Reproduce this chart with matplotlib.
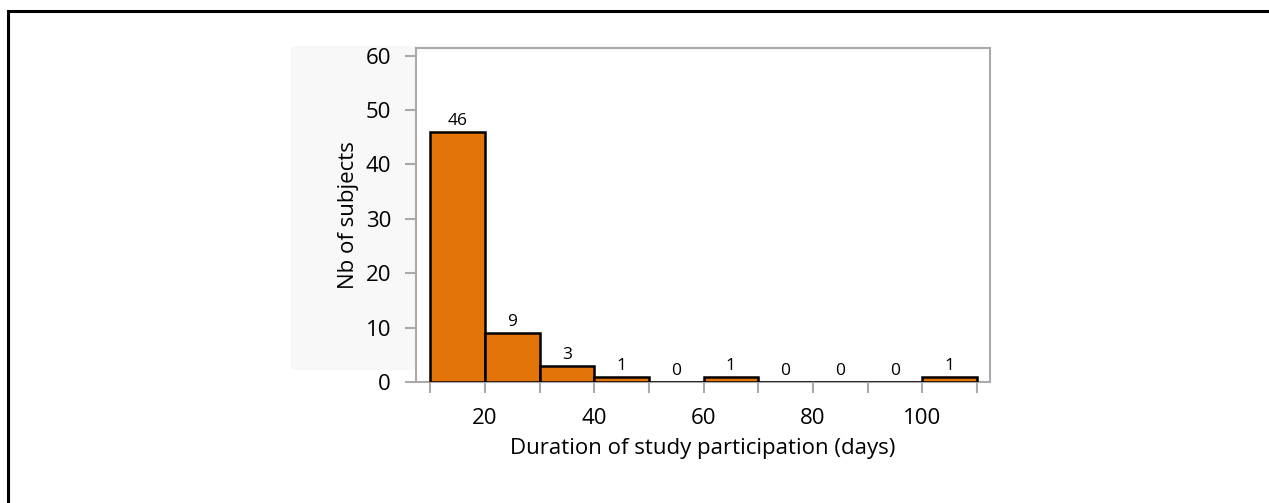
import numpy as np
import matplotlib
matplotlib.use("Agg")
import matplotlib.pyplot as plt
from matplotlib.patches import Rectangle

# histogram bins (days) and counts
bin_edges = [10, 20, 30, 40, 50, 60, 70, 80, 90, 100, 110]
counts = [46, 9, 3, 1, 0, 1, 0, 0, 0, 1]
xtick_labels = [20, 40, 60, 80, 100]
ytick_labels = [0, 10, 20, 30, 40, 50, 60]

plt.rcParams['font.family'] = ['Open Sans', 'DejaVu Sans']

W, H = 1269, 503
fig = plt.figure(figsize=(W / 100, H / 100), dpi=100)

# outer black frame (runs off the right and bottom edges)
fig.patches.append(Rectangle((7.5 / W, -0.2), 1.2, 1 - 11 / H + 0.2,
                             transform=fig.transFigure, fill=False,
                             edgecolor='black', linewidth=2.2, zorder=0))
# light grey panel behind the y axis
fig.patches.append(Rectangle((291 / W, 1 - 370 / H), (416 - 291) / W, (370 - 46) / H,
                             transform=fig.transFigure, facecolor='#f8f8f8',
                             edgecolor='none', zorder=0))

ax = fig.add_axes([416 / W, 1 - 382 / H, (990 - 416) / W, (382 - 48) / H])
ax.set_zorder(2)
ax.set_facecolor('white')

lefts = np.array(bin_edges[:-1])
widths = np.diff(bin_edges)
bars = ax.bar(lefts, counts, width=widths, align='edge', color='#e37508',
              edgecolor='black', linewidth=1.8, zorder=3)
for b, c in zip(bars, counts):
    ax.annotate(str(c), (b.get_x() + b.get_width() / 2, b.get_height()),
                xytext=(0, 2), textcoords='offset points', ha='center', va='bottom',
                fontsize=12.5, color='black')

ax.set_xlim(7.4, 112.4)
ax.set_ylim(0, 61.4)

ax.set_xticks(bin_edges, minor=True)
ax.set_xticks(xtick_labels)
ax.set_yticks(ytick_labels)
ax.tick_params(axis='both', which='both', color='#aaaaaa', width=1.5, length=8,
               labelsize=16, labelcolor='black')
ax.tick_params(axis='x', pad=10.5)
ax.tick_params(axis='y', pad=10)

for s in ax.spines.values():
    s.set_color('#aaaaaa')
    s.set_linewidth(1.5)

ax.set_xlabel('Duration of study participation (days)', fontsize=16, labelpad=7)
ax.set_ylabel('Nb of subjects', fontsize=16, labelpad=5)

fig.savefig('out.png', dpi=100)
